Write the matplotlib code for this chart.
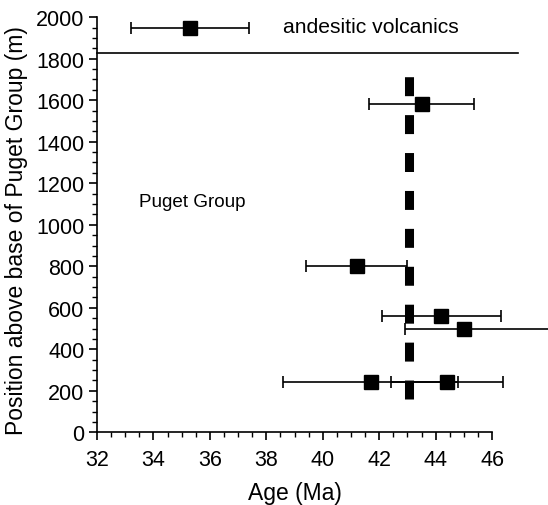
import matplotlib
matplotlib.use("Agg")
import matplotlib.pyplot as plt
from matplotlib.ticker import MultipleLocator

plt.rcParams["font.family"] = ["Liberation Sans", "DejaVu Sans"]

# Ages (Ma) with errors (low, high), stratigraphic position (m)
ages = [35.3, 43.5, 41.2, 44.2, 45.0, 41.7, 44.4]
err_low = [2.1, 1.85, 1.8, 2.1, 2.1, 3.1, 2.0]
err_high = [2.1, 1.85, 1.8, 2.1, 3.2, 3.1, 2.0]
positions = [1950, 1580, 800, 560, 500, 240, 240]

# mean age trend and top of Puget Group contact
mean_age = 43.05
mean_span = [160, 1720]
contact_y = 1828
contact_x = [32, 46.9]

fig = plt.figure(figsize=(5.48, 5.06), dpi=100)
ax = fig.add_axes([0.177, 0.1437, 0.721, 0.8203])

ax.plot([mean_age, mean_age], mean_span, color="black", lw=6.5,
        dashes=(2.1, 2.1), solid_capstyle="butt", dash_capstyle="butt", zorder=2)

ax.errorbar(ages, positions, xerr=[err_low, err_high], fmt="s", color="black",
            ms=10.5, mec="black", mfc="black", elinewidth=1.2, capsize=4.5,
            capthick=1.2, clip_on=False, zorder=3)

ax.plot(contact_x, [contact_y, contact_y], color="black", lw=1.2, clip_on=False)

ax.text(38.6, 1955, "andesitic volcanics", fontsize=15.2, va="center", ha="left")
ax.text(33.5, 1112, "Puget Group", fontsize=13.6, va="center", ha="left")

ax.set_xlim(32, 46)
ax.set_ylim(0, 2000)
ax.xaxis.set_major_locator(MultipleLocator(2))
ax.xaxis.set_minor_locator(MultipleLocator(0.5))
ax.yaxis.set_major_locator(MultipleLocator(200))
ax.yaxis.set_minor_locator(MultipleLocator(50))
ax.tick_params(which="major", length=6, width=1.2, labelsize=15.5)
ax.tick_params(axis="x", which="major", pad=6)
ax.tick_params(axis="y", which="major", pad=3)
ax.tick_params(which="minor", length=3.5, width=1)
ax.spines["top"].set_visible(False)
ax.spines["right"].set_visible(False)
for s in ("left", "bottom"):
    ax.spines[s].set_linewidth(1.2)

ax.set_xlabel("Age (Ma)", fontsize=16.5, labelpad=8)
ax.set_ylabel("Position above base of Puget Group (m)", fontsize=16.5)
ax.yaxis.set_label_coords(-0.175, 0.488)

fig.savefig("out.png", dpi=100)
